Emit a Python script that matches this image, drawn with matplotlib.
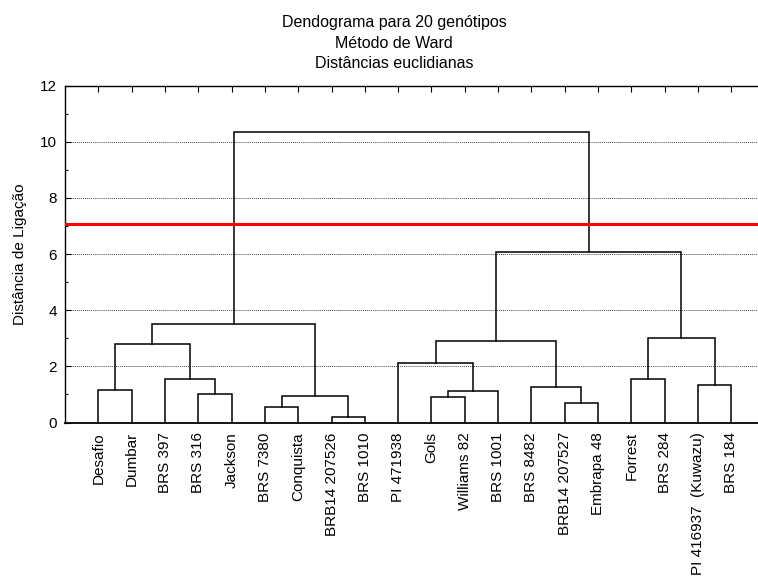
import matplotlib
matplotlib.use("Agg")
import matplotlib.pyplot as plt
from matplotlib.ticker import MultipleLocator

plt.rcParams['font.family'] = ['Liberation Sans', 'DejaVu Sans']

# Leaf labels in dendrogram order
leaves = ["Desafio", "Dumbar", "BRS 397", "BRS 316", "Jackson", "BRS 7380",
          "Conquista", "BRB14 207526", "BRS 1010", "PI 471938", "Gols",
          "Williams 82", "BRS 1001", "BRS 8482", "BRB14 207527", "Embrapa 48",
          "Forrest", "BRS 284", "PI 416937  (Kuwazu)", "BRS 184"]

# Merges (linkage style): child a, child b, linkage distance; new node id = 20 + index
merge_a = [7, 5, 14, 10, 21, 3, 23, 0, 13, 18, 2, 16, 9, 27, 32, 31, 33, 34, 36]
merge_b = [8, 6, 15, 11, 20, 4, 12, 1, 22, 19, 25, 17, 26, 30, 28, 29, 24, 35, 37]
merge_h = [0.21, 0.56, 0.71, 0.92, 0.96, 1.01, 1.12, 1.16, 1.28, 1.32, 1.56,
           1.56, 2.11, 2.79, 2.89, 3.02, 3.52, 6.07, 10.33]

cut_height = 7.07
title_lines = ["Dendograma para 20 genótipos", "Método de Ward", "Distâncias euclidianas"]
ylabel = "Distância de Ligação"

fig = plt.figure(figsize=(7.58, 5.76), dpi=100)
ax = fig.add_axes([65 / 758, (576 - 422.5) / 576, 1 - 65 / 758, (422.5 - 85.5) / 576])

n = len(leaves)
pos = {i: i + 1.0 for i in range(n)}
hgt = {i: 0.0 for i in range(n)}
for k, (a, b, h) in enumerate(zip(merge_a, merge_b, merge_h)):
    xa, xb = pos[a], pos[b]
    ax.plot([xa, xa, xb, xb], [hgt[a], h, h, hgt[b]], color='black', lw=1.1,
            solid_joinstyle='miter', zorder=3)
    node = n + k
    pos[node] = (xa + xb) / 2
    hgt[node] = h

ax.axhline(cut_height, color='#ff0000', lw=2.2, zorder=4)

for y in range(2, 12, 2):
    ax.axhline(y, color='#444444', lw=0.7, linestyle=(0, (1, 1)), zorder=1)

ax.set_xlim(0, 20.8)
ax.set_ylim(0, 12)
ax.set_xticks([pos[i] for i in range(n)])
ax.set_xticklabels(leaves, rotation=90, fontsize=11)
ax.tick_params(axis='x', bottom=False, top=True, labelbottom=True, labeltop=False,
               direction='in', length=4, width=0.8, pad=7)
ax.yaxis.set_major_locator(MultipleLocator(2))
ax.yaxis.set_minor_locator(MultipleLocator(1))
ax.tick_params(axis='y', which='major', direction='in', length=4, width=0.8,
               labelsize=11, pad=6, right=False)
ax.tick_params(axis='y', which='minor', direction='in', length=2, width=0.8, right=False)
ax.spines['right'].set_visible(False)
for s in ['left', 'top', 'bottom']:
    ax.spines[s].set_linewidth(1.0)
ax.spines['bottom'].set_linewidth(1.3)

ax.set_ylabel(ylabel, fontsize=11, labelpad=9)

fig.text(394 / 758, 1 - 22 / 576, title_lines[0], ha='center', va='center', fontsize=11.5)
fig.text(394 / 758, 1 - 44 / 576, title_lines[1], ha='center', va='center', fontsize=11.5)
fig.text(394 / 758, 1 - 64 / 576, title_lines[2], ha='center', va='center', fontsize=11.5)

fig.savefig("out.png", dpi=100)
